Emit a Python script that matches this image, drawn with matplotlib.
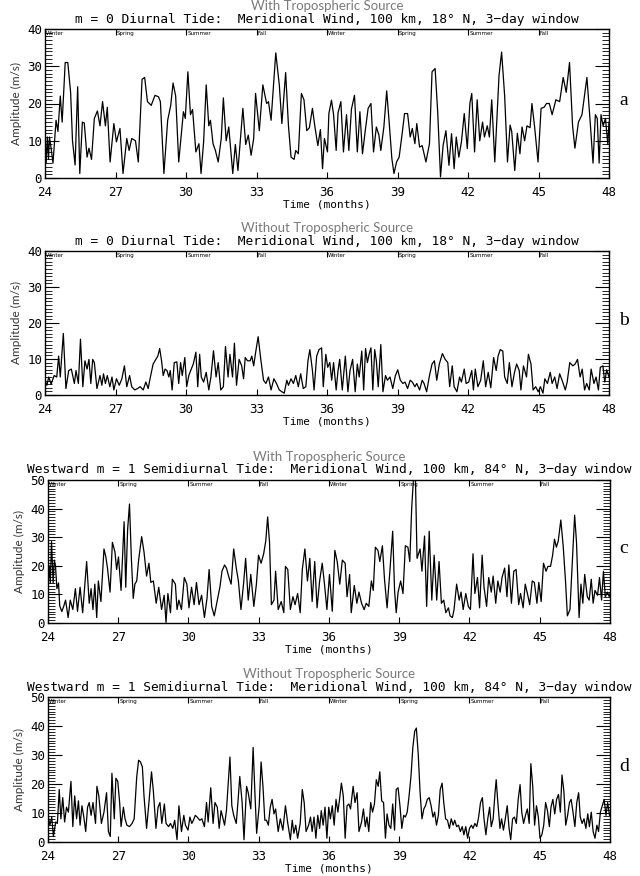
import numpy as np
import matplotlib
matplotlib.use("Agg")
import matplotlib.pyplot as plt
from matplotlib.ticker import MultipleLocator

# amplitude traces: (time in months, amplitude in m/s)
trace_a = [
    (24.00, 11.5), (24.05, 4), (24.10, 11), (24.15, 5), (24.19, 11), (24.26, 8), (24.34, 4),
    (24.47, 15.5), (24.55, 12.5), (24.65, 22), (24.73, 15), (24.86, 31), (24.97, 31), (25.09, 23),
    (25.17, 10), (25.28, 3.5), (25.39, 24.5), (25.48, 1.2), (25.59, 15), (25.67, 14.8), (25.79, 5.6),
    (25.87, 8), (25.98, 5), (26.10, 16), (26.23, 18), (26.34, 14), (26.45, 20.5), (26.57, 14),
    (26.65, 19), (26.77, 4.3), (26.93, 14.6), (27.04, 9.7), (27.19, 13.3), (27.32, 1.2), (27.48, 10.6),
    (27.58, 7.4), (27.69, 10.6), (27.85, 10), (27.97, 4.3), (28.13, 26.5), (28.24, 27), (28.36, 20.5),
    (28.52, 19.5), (28.68, 22.2), (28.83, 21.8), (28.91, 20.5), (29.06, 1.2), (29.22, 15.5),
    (29.35, 19.5), (29.45, 25.5), (29.56, 22), (29.69, 4.3), (29.89, 17.8), (29.97, 16), (30.08, 28.5),
    (30.19, 17), (30.28, 18.4), (30.42, 7), (30.55, 9.2), (30.64, 1.2), (30.75, 9.7), (30.86, 25),
    (30.97, 14), (31.04, 15.5), (31.15, 9.2), (31.25, 7.4), (31.37, 4.3), (31.50, 10.6), (31.59, 21.5),
    (31.71, 10), (31.82, 13.7), (31.99, 1.2), (32.10, 9), (32.21, 2), (32.31, 10), (32.42, 18.7),
    (32.54, 9), (32.65, 11.5), (32.77, 6.1), (32.88, 10.6), (32.96, 22.7), (33.12, 12.7), (33.27, 25),
    (33.43, 20), (33.51, 20.5), (33.62, 15.5), (33.82, 33.6), (33.97, 25), (34.08, 14.6), (34.24, 28.3),
    (34.36, 14), (34.47, 5.6), (34.60, 5), (34.67, 7.4), (34.78, 6.5), (34.91, 22.7), (35.02, 21),
    (35.14, 12.7), (35.25, 13.5), (35.38, 18.7), (35.48, 14), (35.61, 8.7), (35.72, 13), (35.81, 2.5),
    (35.89, 10.6), (36.02, 7), (36.08, 17.3), (36.19, 20.9), (36.28, 17), (36.39, 7.4), (36.47, 17.5),
    (36.59, 20.5), (36.70, 7), (36.83, 17), (36.93, 7.4), (37.04, 18.5), (37.17, 22.2), (37.29, 7),
    (37.40, 17.8), (37.51, 6.5), (37.64, 13.3), (37.75, 18.7), (37.87, 20), (37.98, 7), (38.10, 13.7),
    (38.21, 11.5), (38.29, 7.4), (38.42, 13.7), (38.54, 23.4), (38.65, 14.6), (38.76, 5.2),
    (38.85, 1.2), (38.96, 4.3), (39.07, 5.6), (39.19, 11.5), (39.30, 17.3), (39.43, 17.3), (39.54, 11),
    (39.63, 13.3), (39.74, 9.2), (39.82, 14.6), (39.94, 8.3), (40.05, 8.7), (40.21, 4.3), (40.36, 9.2),
    (40.47, 28.5), (40.60, 29.4), (40.71, 17.8), (40.83, 0.3), (40.94, 8.7), (41.06, 12.7),
    (41.19, 3.4), (41.30, 11.9), (41.41, 2.5), (41.50, 11), (41.61, 5.6), (41.72, 9.7), (41.84, 17.3),
    (41.97, 7.9), (42.08, 20), (42.16, 22.7), (42.28, 7), (42.39, 21), (42.50, 10), (42.62, 15),
    (42.70, 11), (42.82, 14), (42.91, 11), (43.01, 21), (43.14, 4.3), (43.25, 18.4), (43.32, 27.5),
    (43.43, 33.8), (43.56, 22), (43.68, 4.3), (43.79, 14.2), (43.86, 12.5), (43.99, 2), (44.10, 12),
    (44.21, 6.5), (44.30, 13.7), (44.41, 10), (44.51, 14), (44.64, 13.5), (44.72, 20), (44.83, 14),
    (44.98, 4.3), (45.11, 18.7), (45.24, 19), (45.34, 20), (45.46, 20), (45.58, 17), (45.74, 21),
    (45.90, 20.5), (46.05, 27), (46.18, 23), (46.32, 31), (46.45, 14), (46.55, 8), (46.70, 15),
    (46.85, 17), (47.06, 27), (47.20, 15), (47.32, 4), (47.42, 17), (47.50, 16), (47.58, 4),
    (47.66, 17), (47.75, 14), (47.85, 16), (47.95, 9), (48.00, 15),
]

trace_b = [
    (24.00, 4), (24.08, 2.7), (24.16, 5), (24.26, 3), (24.39, 5.4), (24.50, 5), (24.58, 10.8),
    (24.65, 5), (24.78, 17.1), (24.89, 1.8), (25.01, 6.8), (25.12, 7.2), (25.25, 3.2), (25.32, 6.8),
    (25.42, 3.2), (25.51, 15.5), (25.61, 2.3), (25.70, 9.5), (25.79, 7.2), (25.87, 9.9), (25.95, 3.2),
    (26.03, 9.9), (26.10, 9), (26.21, 1.8), (26.34, 5.4), (26.42, 2.7), (26.49, 5.9), (26.57, 3.2),
    (26.65, 5.4), (26.76, 2.3), (26.85, 5), (26.93, 1.4), (27.04, 4.5), (27.16, 2.7), (27.27, 4.5),
    (27.38, 8.1), (27.48, 2.3), (27.60, 5.4), (27.69, 2.3), (27.82, 1.4), (27.94, 1.8), (28.05, 2.3),
    (28.18, 1.4), (28.29, 3.6), (28.39, 1.8), (28.47, 4.5), (28.60, 8.6), (28.72, 9.9), (28.80, 10.8),
    (28.88, 12.9), (28.96, 9.5), (29.03, 5.4), (29.11, 7.2), (29.19, 6.8), (29.27, 5), (29.33, 6.8),
    (29.41, 1.4), (29.50, 9), (29.61, 9.2), (29.69, 3.2), (29.77, 9), (29.84, 5.4), (29.95, 10.4),
    (30.03, 2.3), (30.12, 5.4), (30.20, 6.8), (30.31, 8.6), (30.42, 11.9), (30.50, 2.3), (30.58, 11.3),
    (30.65, 5), (30.75, 3.6), (30.86, 6.3), (30.97, 1.4), (31.06, 5), (31.17, 12.3), (31.28, 5),
    (31.37, 9), (31.48, 1.4), (31.59, 2.3), (31.68, 13.5), (31.79, 5), (31.87, 11.3), (31.98, 5),
    (32.06, 14.4), (32.15, 2.7), (32.26, 9.9), (32.37, 8.1), (32.45, 4.5), (32.52, 10.4), (32.62, 9.5),
    (32.73, 9.5), (32.80, 10.8), (32.88, 8.1), (32.96, 11.7), (33.07, 16.2), (33.19, 9.5), (33.30, 4.1),
    (33.40, 3.2), (33.51, 5), (33.62, 1.4), (33.74, 4.5), (33.85, 3.2), (33.97, 1.4), (34.08, 0.9),
    (34.18, 0.5), (34.29, 4.1), (34.36, 2.7), (34.47, 4.5), (34.57, 3.2), (34.67, 5.4), (34.78, 2.3),
    (34.88, 5.9), (34.99, 1.8), (35.10, 2.3), (35.19, 9.5), (35.27, 12.6), (35.38, 6.8), (35.45, 1.4),
    (35.56, 10.8), (35.66, 12.6), (35.77, 13.1), (35.84, 2.3), (35.95, 11.3), (36.03, 7.7), (36.12, 9),
    (36.20, 4.1), (36.28, 9), (36.39, 1.4), (36.47, 6.8), (36.54, 9.9), (36.65, 1.4), (36.78, 10.8),
    (36.89, 0.9), (36.98, 6.8), (37.09, 9.9), (37.20, 0.9), (37.29, 8.6), (37.37, 5), (37.48, 12.2),
    (37.56, 1.4), (37.64, 12.9), (37.72, 9), (37.79, 11.3), (37.87, 13.1), (37.95, 1.4), (38.03, 12.6),
    (38.10, 9.5), (38.18, 2.3), (38.29, 14), (38.38, 0.9), (38.49, 5.4), (38.57, 4.1), (38.68, 5),
    (38.80, 1.8), (38.91, 5.4), (39.01, 7), (39.12, 4.1), (39.23, 3.2), (39.32, 3.6), (39.43, 1.8),
    (39.54, 4.1), (39.63, 3.6), (39.74, 2.3), (39.82, 3.2), (39.94, 1.4), (40.05, 4.1), (40.13, 3.2),
    (40.24, 0.9), (40.36, 5.4), (40.47, 8.6), (40.57, 9.5), (40.67, 4.1), (40.78, 8.6), (40.91, 11.5),
    (41.03, 9.9), (41.14, 9), (41.22, 2.3), (41.33, 8.1), (41.41, 2.3), (41.53, 0.9), (41.64, 5),
    (41.72, 3.6), (41.84, 7.2), (41.92, 3.2), (42.03, 3.6), (42.16, 6.8), (42.23, 1.4), (42.31, 7.2),
    (42.42, 2.3), (42.54, 4.1), (42.65, 9.5), (42.75, 2.3), (42.86, 6.3), (42.97, 2.0), (43.09, 10.4),
    (43.20, 6.8), (43.28, 10.8), (43.37, 12.6), (43.48, 12.2), (43.56, 5), (43.67, 3.2), (43.76, 9),
    (43.87, 2.3), (43.98, 6.3), (44.07, 8.6), (44.18, 6.8), (44.25, 1.4), (44.36, 8.1), (44.49, 5),
    (44.57, 11.3), (44.68, 8.6), (44.77, 1.4), (44.88, 2.3), (44.99, 0.9), (45.08, 2.3), (45.19, 0.5),
    (45.27, 4.5), (45.38, 3.2), (45.50, 6.3), (45.58, 3.2), (45.69, 5), (45.79, 1.8), (45.90, 5.9),
    (46.03, 3.6), (46.14, 1.4), (46.22, 3.6), (46.33, 9), (46.46, 8.1), (46.56, 8.6), (46.66, 9.9),
    (46.77, 5), (46.86, 7.2), (46.96, 1.4), (47.05, 3.2), (47.16, 1.4), (47.24, 7.2), (47.36, 3.2),
    (47.45, 5), (47.55, 1.4), (47.63, 7.7), (47.74, 8.1), (47.82, 3.6), (47.90, 7), (48.00, 5),
]

trace_c = [
    (24.00, 12), (24.06, 20), (24.10, 14), (24.15, 28.5), (24.22, 14), (24.27, 22), (24.32, 20),
    (24.38, 12), (24.45, 14), (24.50, 6), (24.59, 4), (24.67, 5.8), (24.75, 8), (24.86, 1.9),
    (24.95, 8), (25.06, 4.7), (25.17, 12), (25.26, 4.1), (25.37, 12.5), (25.48, 3.6), (25.56, 12),
    (25.65, 21.5), (25.76, 6.9), (25.84, 12), (25.92, 4.7), (26.00, 13.6), (26.08, 1.9), (26.15, 14.7),
    (26.26, 7.5), (26.39, 25.9), (26.47, 23.1), (26.54, 19.2), (26.65, 10.8), (26.75, 28.2),
    (26.86, 24.8), (26.93, 18.7), (27.01, 23.1), (27.12, 11.4), (27.25, 35.4), (27.32, 12.5),
    (27.40, 32.6), (27.48, 41.6), (27.56, 22.6), (27.64, 8.6), (27.71, 13.6), (27.79, 14.7), (27.87, 22),
    (28.00, 30.2), (28.10, 24.8), (28.21, 16.4), (28.31, 20.9), (28.39, 14.2), (28.50, 14.7),
    (28.62, 6.9), (28.73, 12.5), (28.85, 4.7), (28.96, 9.7), (29.04, 0.2), (29.12, 10.3), (29.23, 3.6),
    (29.31, 15.3), (29.44, 13.6), (29.51, 4.7), (29.59, 8), (29.70, 4.7), (29.82, 15.9), (29.93, 13.6),
    (30.02, 5.3), (30.13, 12.5), (30.24, 6.4), (30.34, 14.2), (30.45, 6.4), (30.56, 9.7), (30.68, 1.9),
    (30.79, 8.6), (30.88, 18.7), (30.99, 5.8), (31.10, 2.5), (31.23, 8), (31.34, 12.5), (31.43, 18.1),
    (31.54, 20.3), (31.62, 19.2), (31.73, 15.9), (31.82, 13.6), (31.93, 25.9), (32.04, 19.2),
    (32.13, 14.7), (32.24, 4.7), (32.35, 13.6), (32.44, 22.6), (32.55, 8), (32.66, 17), (32.79, 5.8),
    (32.90, 13.6), (32.99, 23.7), (33.10, 20.9), (33.21, 24.2), (33.30, 28.7), (33.38, 37.1),
    (33.46, 28.2), (33.54, 6.4), (33.65, 8), (33.72, 18.1), (33.83, 4.7), (33.96, 7.5), (34.07, 3.6),
    (34.14, 19.8), (34.24, 18.7), (34.35, 4.7), (34.46, 9.2), (34.55, 6.4), (34.66, 10.3), (34.77, 3.6),
    (34.86, 18.7), (34.97, 25.9), (35.08, 14.7), (35.18, 22.6), (35.28, 7.5), (35.39, 21.5),
    (35.49, 5.3), (35.60, 14.7), (35.71, 20.9), (35.80, 14.2), (35.91, 4.7), (36.02, 17), (36.14, 4.1),
    (36.25, 25.4), (36.35, 21.5), (36.46, 13.6), (36.57, 22), (36.69, 20.9), (36.77, 9.2), (36.88, 17),
    (36.95, 3.6), (37.08, 13.1), (37.19, 6.9), (37.28, 10.8), (37.39, 6.9), (37.50, 4.7), (37.59, 6.9),
    (37.70, 5.8), (37.81, 14.7), (37.89, 11.4), (37.98, 26.5), (38.09, 25.4), (38.17, 21.5), (38.28, 27),
    (38.37, 15.3), (38.48, 5.3), (38.59, 17), (38.72, 32.1), (38.80, 11.4), (38.87, 3.6), (38.95, 10.8),
    (39.06, 14.7), (39.16, 10.3), (39.26, 27), (39.37, 26.5), (39.45, 21.5), (39.53, 39.9), (39.61, 51),
    (39.69, 51), (39.76, 22.6), (39.89, 25.9), (39.97, 18.1), (40.08, 30.4), (40.17, 5.8), (40.28, 32.1),
    (40.39, 8), (40.49, 23.7), (40.60, 8), (40.70, 21.5), (40.80, 6.9), (40.90, 8), (40.99, 3.6),
    (41.10, 5.3), (41.17, 2.5), (41.27, 1.9), (41.34, 4.7), (41.45, 13.6), (41.56, 8), (41.64, 10.8),
    (41.73, 4.7), (41.84, 10.3), (41.95, 5.8), (42.04, 4.7), (42.15, 24.2), (42.23, 10.3), (42.34, 15.9),
    (42.43, 5.3), (42.54, 23.7), (42.62, 12.5), (42.73, 5.8), (42.82, 15.9), (42.93, 10.8), (43.01, 16.4),
    (43.12, 6.9), (43.21, 14.7), (43.31, 10.8), (43.39, 15.9), (43.50, 19.2), (43.60, 9.2), (43.68, 20.3),
    (43.79, 6.9), (43.89, 18.1), (43.99, 18.7), (44.10, 6.4), (44.18, 10.3), (44.29, 5.3), (44.38, 13.6),
    (44.49, 9.7), (44.57, 6.4), (44.68, 14.7), (44.77, 14.2), (44.88, 6.9), (44.96, 14.2), (45.06, 7.5),
    (45.16, 20.9), (45.27, 18.1), (45.35, 19.8), (45.46, 19.8), (45.55, 23.7), (45.63, 29.3),
    (45.71, 26.5), (45.79, 28.7), (45.90, 36), (46.00, 27), (46.10, 14.7), (46.18, 2.5), (46.29, 4.7),
    (46.40, 22.6), (46.49, 37.7), (46.57, 28.2), (46.68, 1.9), (46.76, 13.6), (46.84, 6.9), (46.92, 17),
    (47.03, 9.2), (47.11, 8), (47.20, 15.3), (47.28, 6.9), (47.36, 11.4), (47.47, 9.7), (47.55, 15.9),
    (47.64, 8), (47.72, 18.1), (47.80, 9.2), (47.89, 10.8), (47.97, 9.2), (48.00, 10.3),
]

trace_d = [
    (24.00, 9.2), (24.08, 5.8), (24.16, 8.6), (24.23, 1.9), (24.33, 6.9), (24.40, 6.4), (24.48, 18.1),
    (24.55, 8), (24.63, 15.3), (24.71, 6.9), (24.79, 12), (24.87, 10.3), (24.98, 20.9), (25.06, 5.3),
    (25.14, 15.9), (25.22, 8), (25.30, 14.2), (25.37, 5.8), (25.45, 12.5), (25.53, 8.6), (25.61, 3.6),
    (25.69, 12), (25.76, 13.6), (25.84, 9.2), (25.92, 13.6), (26.03, 6.4), (26.09, 19.2), (26.17, 15.9),
    (26.28, 6.4), (26.39, 10.3), (26.50, 17), (26.58, 3.6), (26.66, 1.9), (26.73, 23.7), (26.83, 8),
    (26.90, 22), (26.98, 20.9), (27.06, 13.6), (27.12, 5.3), (27.22, 12), (27.29, 8), (27.37, 5.8),
    (27.48, 5.3), (27.59, 6.4), (27.68, 8), (27.79, 22.6), (27.87, 28.2), (27.95, 27.6), (28.03, 25.9),
    (28.10, 15.9), (28.21, 4.7), (28.31, 13.6), (28.42, 24.2), (28.50, 17.5), (28.61, 4.7), (28.70, 12),
    (28.78, 13.6), (28.86, 6.4), (28.97, 13.1), (29.04, 6.4), (29.15, 5.3), (29.23, 6.4), (29.33, 4.7),
    (29.41, 7.5), (29.51, 0.8), (29.59, 12.5), (29.70, 3.6), (29.80, 9.2), (29.87, 5.8), (29.98, 4.1),
    (30.06, 8.6), (30.14, 6.4), (30.21, 7.5), (30.29, 9.2), (30.37, 8.6), (30.48, 7.5), (30.57, 8),
    (30.68, 5.3), (30.77, 13.6), (30.84, 6.9), (30.95, 18.7), (31.05, 6.4), (31.13, 13.6), (31.23, 12),
    (31.31, 4.7), (31.39, 10.8), (31.46, 8.6), (31.54, 5.8), (31.62, 10.8), (31.69, 19.2), (31.77, 29.3),
    (31.85, 12.5), (31.93, 9.2), (32.04, 6.4), (32.12, 14.7), (32.19, 22.6), (32.29, 13.6), (32.37, 0.8),
    (32.48, 19.2), (32.55, 17), (32.66, 11.4), (32.76, 32.6), (32.83, 18.1), (32.91, 3), (33.02, 12.5),
    (33.10, 27.6), (33.18, 19.2), (33.26, 7.5), (33.33, 7.5), (33.41, 5.8), (33.49, 12), (33.57, 14.7),
    (33.65, 9.7), (33.72, 11.4), (33.83, 3.6), (33.92, 8), (34.03, 4.1), (34.14, 12.5), (34.24, 6.4),
    (34.35, 0.8), (34.43, 7.5), (34.50, 3), (34.58, 5.8), (34.66, 1.3), (34.77, 6.4), (34.86, 18.1),
    (34.94, 13.6), (35.02, 3.6), (35.13, 5.8), (35.21, 8.6), (35.28, 3.6), (35.36, 8.6), (35.44, 1.3),
    (35.52, 9.2), (35.60, 4.7), (35.67, 10.8), (35.75, 5.8), (35.83, 12), (35.91, 1.3), (35.99, 12),
    (36.06, 8), (36.14, 12.5), (36.22, 5.8), (36.30, 14.7), (36.38, 10.3), (36.45, 14.7), (36.53, 20.3),
    (36.61, 15.9), (36.69, 1.3), (36.77, 12.5), (36.85, 13.1), (36.92, 11.4), (37.03, 19.2),
    (37.11, 13.6), (37.20, 17), (37.28, 3.6), (37.39, 6.9), (37.47, 11.4), (37.55, 5.3), (37.62, 8.6),
    (37.70, 3.6), (37.78, 13.6), (37.86, 10.3), (37.94, 13.1), (38.02, 21.5), (38.10, 19.2),
    (38.17, 24.2), (38.25, 14.2), (38.33, 13.6), (38.41, 1.3), (38.48, 9.7), (38.56, 5.8), (38.64, 4.7),
    (38.72, 13.1), (38.80, 4.1), (38.87, 18.1), (38.95, 18.7), (39.03, 12.5), (39.11, 4.7), (39.19, 9.2),
    (39.26, 8.6), (39.34, 10.3), (39.42, 15.9), (39.50, 22.6), (39.58, 32.6), (39.66, 38.2),
    (39.73, 39.3), (39.81, 30.4), (39.89, 17), (39.97, 8), (40.05, 11.4), (40.12, 12.5), (40.20, 14.7),
    (40.28, 15.3), (40.36, 12.5), (40.44, 8.6), (40.51, 10.3), (40.59, 5.8), (40.67, 9.2), (40.75, 18.1),
    (40.83, 20.3), (40.90, 13.6), (40.98, 8), (41.06, 7.5), (41.14, 4.7), (41.22, 8), (41.30, 5.8),
    (41.37, 7.5), (41.45, 5.3), (41.53, 5.8), (41.61, 3.6), (41.69, 5.3), (41.76, 2.5), (41.84, 5.3),
    (41.92, 1.3), (42.00, 4.7), (42.08, 5.8), (42.15, 4.7), (42.23, 6.4), (42.31, 5.3), (42.39, 8.6),
    (42.47, 13.6), (42.55, 15.3), (42.62, 8), (42.70, 2.5), (42.78, 8), (42.86, 12), (42.93, 5.3),
    (43.01, 8), (43.09, 17), (43.14, 21.5), (43.20, 14.7), (43.30, 4.7), (43.37, 8), (43.45, 4.1),
    (43.53, 8), (43.61, 12.5), (43.69, 4.7), (43.76, 0.8), (43.84, 8), (43.92, 8.6), (44.00, 6.4),
    (44.08, 14.7), (44.16, 19.8), (44.23, 10.3), (44.31, 6.4), (44.39, 9.2), (44.47, 11.4), (44.55, 6.4),
    (44.62, 27), (44.70, 19.2), (44.78, 5.8), (44.86, 12.5), (44.94, 8.6), (45.01, 1.3), (45.09, 2.5),
    (45.17, 5.8), (45.25, 13.6), (45.33, 10.8), (45.41, 5.3), (45.48, 12), (45.56, 14.7), (45.64, 9.7),
    (45.72, 14.7), (45.80, 16.4), (45.88, 10.3), (45.95, 23.1), (46.03, 17.5), (46.11, 5.8),
    (46.19, 9.2), (46.27, 13.6), (46.34, 14.7), (46.42, 10.3), (46.50, 5.3), (46.58, 13.6), (46.66, 17),
    (46.73, 8.6), (46.81, 6.4), (46.89, 8), (46.97, 4.7), (47.05, 9.7), (47.12, 5.3), (47.20, 10.3),
    (47.28, 3.6), (47.36, 1.3), (47.44, 5.8), (47.51, 3.6), (47.59, 10.3), (47.67, 12.5), (47.75, 14.7),
    (47.83, 9.2), (47.90, 13.6), (47.98, 9.2),
]

seasons = ["Winter", "Spring", "Summer", "Fall", "Winter", "Spring", "Summer", "Fall"]
season_start = [24, 27, 30, 33, 36, 39, 42, 45]
month_ticks = [24, 27, 30, 33, 36, 39, 42, 45, 48]

title_diurnal = "m = 0 Diurnal Tide:  Meridional Wind, 100 km, 18° N, 3\u2212day window"
title_semi = "Westward m = 1 Semidiurnal Tide:  Meridional Wind, 100 km, 84° N, 3\u2212day window"

panels = [
    # trace, ymax, source, title, letter, axes box in pixels (left, top, right, bottom)
    (trace_a, 40, "With Tropospheric Source", title_diurnal, "a", (45, 29, 609, 178)),
    (trace_b, 40, "Without Tropospheric Source", title_diurnal, "b", (45, 251, 609, 395)),
    (trace_c, 50, "With Tropospheric Source", title_semi, "c", (48, 480, 610, 623)),
    (trace_d, 50, "Without Tropospheric Source", title_semi, "d", (48, 697, 610, 842)),
]

MONO = "DejaVu Sans Mono"
W, H = 640, 876
fig = plt.figure(figsize=(W / 100, H / 100), dpi=100)

for trace, ymax, source, title, letter, (l, t, r, b) in panels:
    ax = fig.add_axes([l / W, 1 - b / H, (r - l) / W, (b - t) / H])
    tt, amp = np.array(trace).T
    ax.plot(tt, amp, color="black", lw=0.9)
    ax.set_xlim(24, 48)
    ax.set_ylim(0, ymax)

    ax.set_xticks(month_ticks)
    ax.set_xticklabels([str(m) for m in month_ticks], fontsize=9, family=MONO)
    ax.set_yticks(range(0, ymax + 1, 10))
    ax.set_yticklabels([str(v) for v in range(0, ymax + 1, 10)], fontsize=9, family=MONO)
    ax.yaxis.set_minor_locator(MultipleLocator(1))
    ax.tick_params(axis="x", which="major", direction="in", length=4, width=0.8,
                   top=True, bottom=True, pad=6)
    ax.tick_params(axis="y", which="major", direction="in", length=10, width=0.8,
                   left=True, right=True, pad=2)
    ax.tick_params(axis="y", which="minor", direction="in", length=5, width=0.6,
                   left=True, right=True)
    for sp in ax.spines.values():
        sp.set_linewidth(1.0)

    for s, m in zip(seasons, season_start):
        ax.text(m + 0.05, ymax * 0.985, s, fontsize=4, va="top", ha="left")

    ax.set_xlabel("Time (months)", fontsize=8, family=MONO, labelpad=0)
    ax.set_ylabel("Amplitude (m/s)", fontsize=8.5, color="#333333",
                  family="Lato", labelpad=4)

    cx = (l + r) / 2 / W
    fig.text(cx, 1 - (t - 10) / H, title, ha="center", va="center", fontsize=9.3, family=MONO)
    fig.text(cx, 1 - (t - 23) / H, source, ha="center", va="center", fontsize=9.5,
             color="#7a7a7a", family="Lato")
    fig.text(624 / W, 1 - (t + 0.48 * (b - t)) / H, letter, ha="center", va="center",
             fontsize=14, family="Liberation Serif")

fig.savefig("out.png", dpi=100)
